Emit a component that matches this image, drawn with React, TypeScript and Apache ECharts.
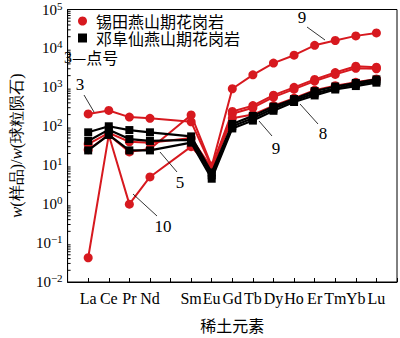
import React, { useEffect, useRef } from "react";
import * as echarts from "echarts";

// Elements (Pm has no analysis, kept as an empty slot on the axis)
const AXIS_CATS = ["", "La", "Ce", "Pr", "Nd", "Pm", "Sm", "Eu", "Gd", "Tb", "Dy", "Ho", "Er", "Tm", "Yb", "Lu", ""];
const ELEMENTS = ["La", "Ce", "Pr", "Nd", "Sm", "Eu", "Gd", "Tb", "Dy", "Ho", "Er", "Tm", "Yb", "Lu"];

// 锡田燕山期花岗岩 (red)
const XT_3 = [208, 255, 172, 160, 130, 9, 240, 340, 630, 1000, 1600, 2400, 3500, 3300];
const XT_9 = [25, 60, 22, 26, 195, 9.5, 920, 2100, 4200, 6700, 12000, 16000, 21000, 25000];
const XT_A = [35, 68, 40, 38, 50, 8.5, 210, 300, 560, 900, 1450, 2150, 3100, 3000];
const XT_10 = [0.042, 60, 1.0, 5.0, 30, 8, 160, 200, 340, 530, 850, 1100, 1350, 1650];

// 邓阜仙燕山期花岗岩 (black)
const DFX_1 = [70, 100, 80, 70, 55, 6.5, 115, 185, 320, 500, 800, 1050, 1300, 1600];
const DFX_2 = [42, 82, 47, 42, 45, 5.5, 100, 160, 285, 460, 700, 950, 1200, 1450];
const DFX_8 = [24, 60, 24, 24, 38, 4.5, 88, 140, 250, 420, 620, 880, 1080, 1320];

const Y_MIN = 0.01;
const Y_MAX = 100000;

const RED = "#d7191f";
const BLACK = "#000000";
const NAME_XT = "锡田燕山期花岗岩";
const NAME_DFX = "邓阜仙燕山期花岗岩";

const FONT = "Times New Roman, Liberation Serif, serif";
const CJK = "Noto Sans CJK SC";

function toPairs(vals: number[]) {
  return vals.map((v, i) => [ELEMENTS[i], v]);
}

function minorTickValues() {
  const out: number[][] = [];
  for (let k = -2; k < 5; k++) {
    for (let m = 2; m <= 9; m++) out.push([0, m * Math.pow(10, k)]);
  }
  return out;
}

export default function App() {
  const ref = useRef<HTMLDivElement>(null);
  useEffect(() => {
    if (!ref.current) return;
    const chart = echarts.init(ref.current, null, { renderer: "svg" });

    const redSeries = [XT_3, XT_9, XT_A, XT_10].map((d) => ({
      name: NAME_XT,
      type: "line",
      data: toPairs(d),
      symbol: "circle",
      symbolSize: 9,
      lineStyle: { color: RED, width: 2 },
      itemStyle: { color: RED },
      z: 2,
    }));
    const blackSeries = [DFX_1, DFX_2, DFX_8].map((d) => ({
      name: NAME_DFX,
      type: "line",
      data: toPairs(d),
      symbol: "rect",
      symbolSize: 8,
      lineStyle: { color: BLACK, width: 2.2 },
      itemStyle: { color: BLACK },
      z: 3,
    }));

    const minorSeries = {
      type: "custom",
      silent: true,
      data: minorTickValues(),
      encode: { x: 0, y: 1 },
      renderItem: (_p: any, api: any) => {
        const pt = api.coord([0, api.value(1)]);
        return {
          type: "line",
          shape: { x1: pt[0], y1: pt[1], x2: pt[0] + 3, y2: pt[1] },
          style: { stroke: "#000", lineWidth: 1 },
        };
      },
      z: 5,
    };

    const annText = (t: string, x: number, y: number) => ({
      type: "text",
      x,
      y,
      style: { text: t, font: `17px ${FONT}`, fill: "#000", align: "center", verticalAlign: "middle" },
      z: 10,
    });
    const annLine = (x1: number, y1: number, x2: number, y2: number) => ({
      type: "line",
      shape: { x1, y1, x2, y2 },
      style: { stroke: "#000", lineWidth: 0.8 },
      z: 10,
    });

    const legendBase = {
      orient: "horizontal",
      left: 78,
      itemWidth: 9,
      itemHeight: 9,
      selectedMode: false,
      padding: 0,
      textStyle: { fontFamily: CJK, fontSize: 16, lineHeight: 15, color: "#000", padding: [0, 0, 0, 4] },
    };

    chart.setOption({
      animation: false,
      backgroundColor: "#fff",
      grid: { left: 57, right: 3, top: 5, bottom: 50, show: true, borderColor: "#000", borderWidth: 1 },
      legend: [
        { ...legendBase, top: 13, data: [{ name: NAME_XT, icon: "circle" }] },
        { ...legendBase, top: 30, data: [{ name: NAME_DFX, icon: "rect" }] },
      ],
      xAxis: {
        type: "category",
        data: AXIS_CATS,
        boundaryGap: false,
        name: "稀土元素",
        nameLocation: "middle",
        nameGap: 35,
        nameTextStyle: { fontFamily: CJK, fontSize: 16, color: "#000" },
        axisLine: { lineStyle: { color: "#000", width: 1 } },
        axisTick: { inside: true, length: 4, interval: 0, lineStyle: { color: "#000" } },
        axisLabel: {
          interval: 0,
          margin: 8,
          fontFamily: FONT,
          fontSize: 16,
          color: "#000",
          formatter: (v: string) => (v === "Pm" ? "" : v),
        },
        splitLine: { show: false },
      },
      yAxis: {
        type: "log",
        logBase: 10,
        min: Y_MIN,
        max: Y_MAX,
        interval: 1,
        name: "{i|w}{t|(样品)/}{i|w}{t|(球粒陨石)}",
        nameLocation: "middle",
        nameRotate: 90,
        nameGap: 36,
        nameTextStyle: {
          fontFamily: FONT,
          fontSize: 16,
          color: "#000",
          rich: {
            i: { fontFamily: FONT, fontStyle: "italic", fontSize: 17, color: "#000" },
            t: { fontFamily: FONT, fontSize: 16, color: "#000" },
          },
        },
        axisLine: { show: true, lineStyle: { color: "#000", width: 1 } },
        axisTick: { inside: true, length: 6, lineStyle: { color: "#000" } },
        splitLine: { show: false },
        axisLabel: {
          margin: 5,
          formatter: (v: number) => {
            const e = Math.round(Math.log10(v));
            const s = e < 0 ? "\u2212" + Math.abs(e) : String(e);
            return `{b|10}{s|${s}}`;
          },
          rich: {
            b: { fontFamily: FONT, fontSize: 15, color: "#000" },
            s: { fontFamily: FONT, fontSize: 11, color: "#000", verticalAlign: "top", padding: [0, 0, 8, 0] },
          },
        },
      },
      graphic: [
        {
          type: "text",
          left: 64,
          top: 49,
          style: {
            text: "{n|3}{d|—点号}",
            rich: {
              n: { fontFamily: FONT, fontSize: 16, fill: "#000" },
              d: { fontFamily: CJK, fontSize: 16, fill: "#000" },
            },
          },
          z: 10,
        },
        annText("3", 80, 84),
        annLine(84, 95, 94, 112),
        annText("9", 302, 17),
        annLine(307, 27, 325, 40),
        annText("9", 276, 148),
        annLine(272, 136, 259, 121),
        annText("8", 323, 133),
        annLine(318, 124, 300, 104),
        annText("5", 180, 182),
        annLine(177, 172, 160, 152),
        annText("10", 163, 226),
        annLine(157, 216, 133, 194),
      ],
      series: [...redSeries, ...blackSeries, minorSeries],
    });
    return () => chart.dispose();
  }, []);
  return <div ref={ref} style={{ position: "fixed", left: 0, top: 0, width: 400, height: 338 }} />;
}
